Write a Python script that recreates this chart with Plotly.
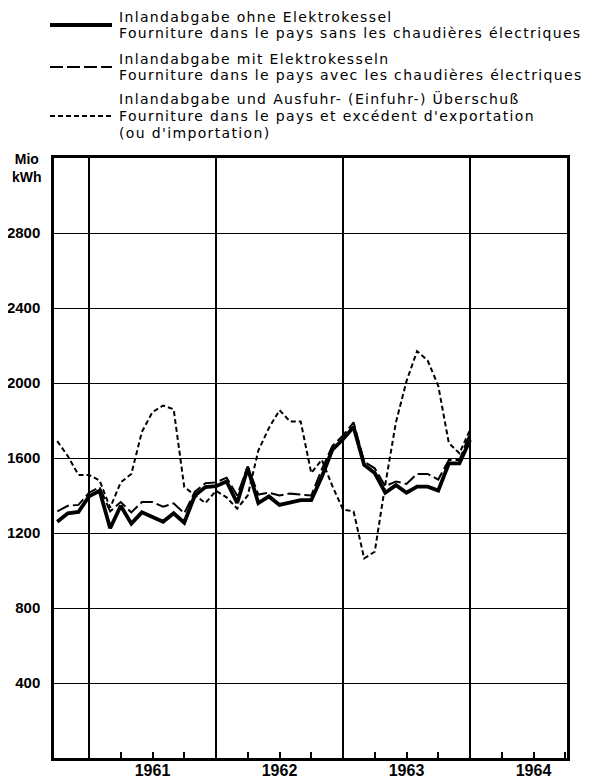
import plotly.graph_objects as go

# ---- data (monthly, Sep 1960 - Dec 1963), Mio kWh ----
years = [1960] * 4 + [1961] * 12 + [1962] * 12 + [1963] * 12
month_nums = [9, 10, 11, 12] + list(range(1, 13)) * 3
ohne = [1260, 1305, 1312, 1395, 1425, 1225, 1345, 1250, 1310, 1285, 1260, 1305,
        1255, 1400, 1445, 1450, 1475, 1360, 1545, 1360, 1395, 1350, 1365, 1375,
        1375, 1500, 1645, 1700, 1765, 1563, 1520, 1415, 1455, 1415, 1447, 1447,
        1426, 1571, 1571, 1696]
mit = [1315, 1345, 1350, 1415, 1445, 1315, 1365, 1310, 1365, 1365, 1340, 1358,
       1305, 1420, 1465, 1470, 1495, 1400, 1555, 1405, 1415, 1400, 1410, 1405,
       1400, 1540, 1665, 1720, 1790, 1580, 1545, 1450, 1475, 1462, 1515, 1515,
       1485, 1589, 1589, 1731]
ausfuhr = [1690, 1610, 1510, 1510, 1480, 1335, 1470, 1515, 1740, 1845, 1880, 1860,
           1445, 1400, 1360, 1425, 1390, 1330, 1400, 1640, 1760, 1855, 1795, 1795,
           1520, 1590, 1450, 1325, 1315, 1065, 1100, 1460, 1790, 2010, 2170, 2120,
           1985, 1680, 1625, 1750]
y_tick_vals = [0, 400, 800, 1200, 1600, 2000, 2400, 2800, 3200]
y_tick_text = ["", "400", "800", "1200", "1600", "2000", "2400", "2800", ""]
year_labels = ["1961", "1962", "1963", "1964"]
legend_texts = [
    ["Inlandabgabe ohne Elektrokessel",
     "Fourniture dans le pays sans les chaudières électriques"],
    ["Inlandabgabe mit Elektrokesseln",
     "Fourniture dans le pays avec les chaudières électriques"],
    ["Inlandabgabe und Ausfuhr- (Einfuhr-) Überschuß",
     "Fourniture dans le pays et excédent d'exportation",
     "(ou d'importation)"],
]

# values plotted at month end
x = [y + m / 12 for y, m in zip(years, month_nums)]

OFF = 8  # page body margin
W, H = 595 - OFF, 784 - OFF
L, R, T, B = 54, 567, 158, 758          # plot box in page pixels
ML, MR, MT, MB = L - OFF, W - (R - OFF), T - OFF, H - (B - OFF)


def px_x(p):
    return (p - L) / (R - L)


def px_y(p):
    return (B - p) / (B - T)


FONT = "Liberation Sans, Arial, sans-serif"
LFONT = "DejaVu Sans, sans-serif"

fig = go.Figure()
fig.add_trace(go.Scatter(x=x, y=ausfuhr, mode="lines",
                         line=dict(color="black", width=2, dash="5px,3px"),
                         showlegend=False))
fig.add_trace(go.Scatter(x=x, y=mit, mode="lines",
                         line=dict(color="black", width=2, dash="13px,4px"),
                         showlegend=False))
fig.add_trace(go.Scatter(x=x, y=ohne, mode="lines",
                         line=dict(color="black", width=3.8),
                         showlegend=False))

# x ticks at quarters, labels at mid-year
q_vals, q_text = [], []
for yr, lab in zip([1961, 1962, 1963, 1964], year_labels):
    for q in (0.25, 0.5, 0.75):
        q_vals.append(yr + q)
        q_text.append("<b>%s</b>" % lab if q == 0.5 else "")

xmin = 1961 - (89 - L) / 127
xmax = 1964 + (R - 470) / 127

fig.update_xaxes(range=[xmin, xmax], tickmode="array", tickvals=q_vals,
                 ticktext=q_text, ticks="inside", ticklen=6, tickwidth=1.5,
                 tickcolor="black", showgrid=False, zeroline=False,
                 showline=True, linecolor="black", linewidth=2.5, mirror=True,
                 automargin=False, ticklabelstandoff=-4,
                 tickfont=dict(family=FONT, size=16, color="black"),
                 minor=dict(tickmode="linear", tick0=1961, dtick=1,
                            showgrid=True, gridcolor="black", gridwidth=1.5,
                            ticks=""))
fig.update_yaxes(range=[0, 3200], tickmode="array", tickvals=y_tick_vals,
                 ticktext=["<b>%s</b>" % t if t else "" for t in y_tick_text],
                 ticks="", showgrid=True, gridcolor="black", gridwidth=1.4,
                 zeroline=False, showline=True, linecolor="black", linewidth=2.5,
                 mirror=True, ticklabelstandoff=8, automargin=False,
                 tickfont=dict(family=FONT, size=15, color="black"))

annotations = [
    dict(text="<b>Mio<br>kWh</b>", xref="paper", yref="paper",
         x=px_x(27), y=px_y(168), xanchor="center", yanchor="middle",
         showarrow=False, font=dict(family=FONT, size=14, color="black"))
]
line_y = [[16.5, 33], [58.5, 75], [99, 116, 133]]
for texts, ys in zip(legend_texts, line_y):
    for t, yy in zip(texts, ys):
        annotations.append(dict(
            text="<span style='letter-spacing:1.35px'>%s</span>" % t,
            xref="paper", yref="paper", x=px_x(118), y=px_y(yy),
            xanchor="left", yanchor="middle", showarrow=False, borderpad=0,
            font=dict(family=LFONT, size=14, color="black")))

shapes = []
sample_y = [25, 67, 116]
sample_style = [dict(width=3.8, dash="solid"), dict(width=2, dash="13px,4px"),
                dict(width=2, dash="5px,3px")]
for sy, st in zip(sample_y, sample_style):
    shapes.append(dict(type="line", xref="paper", yref="paper",
                       x0=px_x(50), x1=px_x(112), y0=px_y(sy), y1=px_y(sy),
                       line=dict(color="black", width=st["width"], dash=st["dash"])))

fig.update_layout(width=W, height=H, margin=dict(l=ML, r=MR, t=MT, b=MB),
                  paper_bgcolor="white", plot_bgcolor="white",
                  annotations=annotations, shapes=shapes, showlegend=False)

fig.write_html("out.html")
